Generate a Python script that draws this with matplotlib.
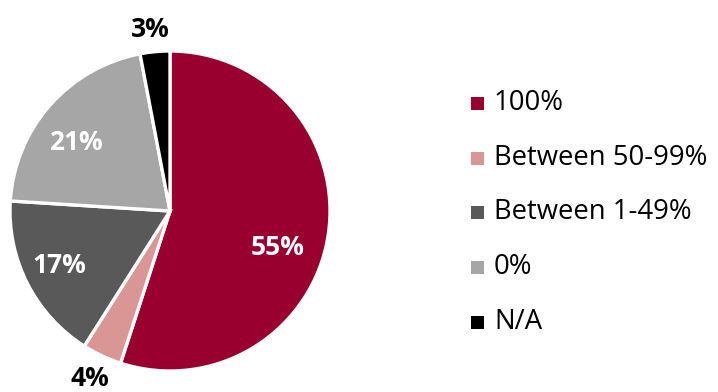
import matplotlib.pyplot as plt
from matplotlib.patches import Rectangle
import numpy as np

plt.rcParams['font.family'] = ['Open Sans', 'DejaVu Sans']

# Доля по категориям
categories = ["100%", "Between 50-99%", "Between 1-49%", "0%", "N/A"]
shares = [55, 4, 17, 21, 3]
colors = ["#990030", "#d99694", "#595959", "#a6a6a6", "#000000"]

W, H = 718, 392
fig = plt.figure(figsize=(W / 100, H / 100), dpi=100)
ax = fig.add_axes([0, 0, 1, 1])

cx, cy, r = 170, H - 211, 160
wedges, _ = ax.pie(shares, colors=colors, startangle=90, counterclock=False,
                   center=(cx, cy), radius=r,
                   wedgeprops=dict(edgecolor="white", linewidth=2.4))
ax.set_xlim(0, W)
ax.set_ylim(0, H)
ax.set_aspect("equal")
ax.axis("off")

# подписи: радиус (в долях r), сдвиг угла
label_dist = [0.71, 1.16, 0.77, 0.73, 1.14]
label_shift = [-9.6, -0.4, -0.9, 5.4, 0.9]
for w, val, d, s in zip(wedges, shares, label_dist, label_shift):
    mid = np.deg2rad((w.theta1 + w.theta2) / 2 + s)
    x = cx + d * r * np.cos(mid)
    y = cy + d * r * np.sin(mid)
    col = "black" if d > 1 else "white"
    ax.text(x, y, f"{val}%", ha="center", va="center", fontsize=19,
            fontweight="bold", color=col)

# легенда
row_y = [103, 158, 212, 267, 322]
for cat, col, yy in zip(categories, colors, row_y):
    ax.add_patch(Rectangle((471, H - yy - 6.5), 13, 13, facecolor=col,
                           edgecolor="none"))
    ax.text(494, H - yy, cat, ha="left", va="center", fontsize=19.8,
            color="black")

fig.savefig("out.png", dpi=100)
